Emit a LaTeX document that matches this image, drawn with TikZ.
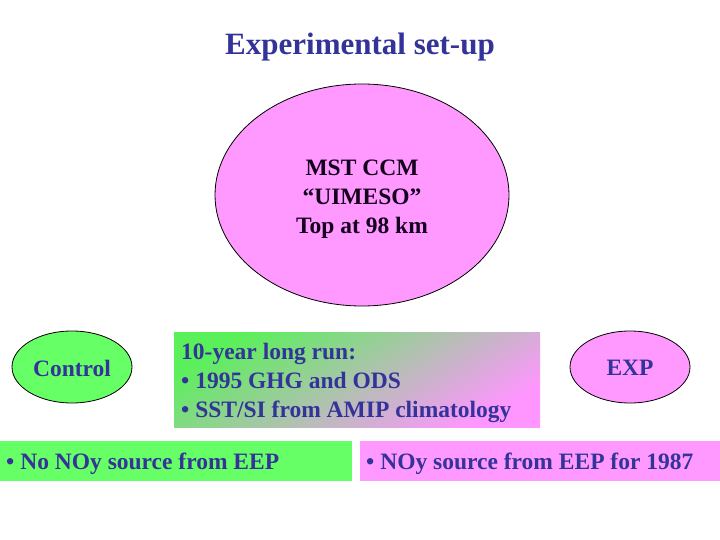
\documentclass[tikz,border=0pt]{standalone}
\usepackage{fontspec}
\setmainfont{Liberation Serif}
\usetikzlibrary{shapes.geometric}
\definecolor{txtblue}{RGB}{51,51,153}
\definecolor{pinkf}{RGB}{255,153,255}
\definecolor{greenf}{RGB}{102,255,102}
\definecolor{gradgreen}{RGB}{90,240,90}
\definecolor{gradmid}{RGB}{195,205,190}
\definecolor{gradpink}{RGB}{255,150,255}
\tikzset{
  bodytxt/.style={font=\fontsize{23.5}{29}\selectfont\bfseries, text=txtblue, inner sep=0pt},
  oval/.style={ellipse, draw=black, line width=0.8pt, inner sep=0pt},
}
\begin{document}
\begin{tikzpicture}[x=1pt,y=-1pt]
\useasboundingbox (0,0) rectangle (720,540);
% title
\node[font=\fontsize{31}{36}\selectfont\bfseries, text=txtblue, inner sep=0pt] (title) at (360,47) {Experimental set-up};
% main ellipse
\node[oval, fill=pinkf, minimum width=294pt, minimum height=222pt] (ccm) at (362,195) {};
\node[bodytxt, text={rgb,255:red,20;green,0;blue,30}, align=center] (ccmtxt) at (362,199) {MST CCM\\“UIMESO”\\Top at 98 km};
% control ellipse
\node[oval, fill=greenf, minimum width=120pt, minimum height=72pt] (ctrl) at (72,367) {};
\node[bodytxt] (ctrltxt) at (72,368) {Control};
% EXP ellipse
\node[oval, fill=pinkf, minimum width=120pt, minimum height=72pt] (exp) at (630,367) {};
\node[bodytxt] (exptxt) at (630,368) {EXP};
% gradient box
\shade[top color=gradgreen, middle color=gradmid, bottom color=gradpink, shading angle=30] (174,332) rectangle (540,427);
\node[bodytxt, align=left, anchor=west] (run) at (181,383) {10-year long run:\\• 1995 GHG and ODS\\• SST/SI from AMIP climatology};
% bottom boxes
\fill[greenf] (0,441) rectangle (352,481);
\node[bodytxt, anchor=west] (nosrc) at (6,464) {• No NOy source from EEP};
\fill[pinkf] (360,441) rectangle (720,481);
\node[bodytxt, anchor=west] (src) at (366,464) {• NOy source from EEP for 1987};
\end{tikzpicture}
\end{document}
